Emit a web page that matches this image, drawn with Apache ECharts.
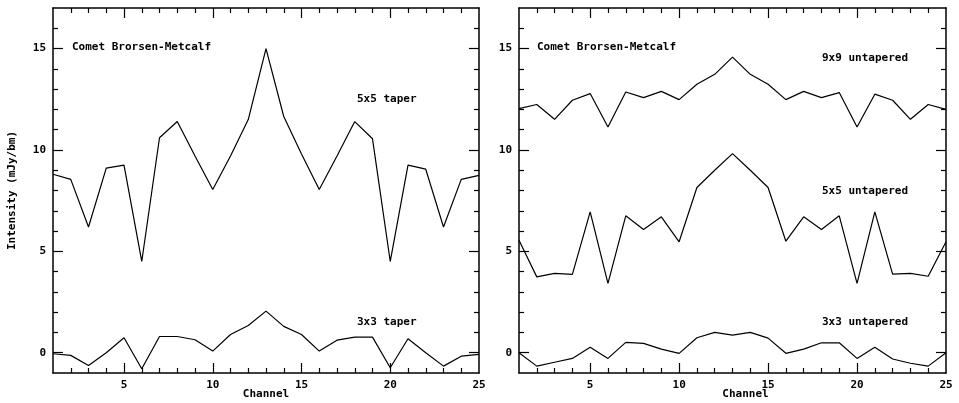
<!DOCTYPE html>
<html>
<head>
<meta charset="utf-8">
<script src="https://cdn.jsdelivr.net/npm/echarts@6/dist/echarts.min.js"></script>
<style>
html,body{margin:0;padding:0;background:#fff;}
#chart{width:959px;height:403px;}
</style>
</head>
<body>
<div id="chart"></div>
<script>
// ---- data ----
var channels = [1,2,3,4,5,6,7,8,9,10,11,12,13,14,15,16,17,18,19,20,21,22,23,24,25];
var taper5x5 = [8.8, 8.55, 6.2, 9.1, 9.25, 4.5, 10.6, 11.4, 9.7, 8.05, 9.7, 11.5, 15.0, 11.65, 9.8, 8.05, 9.7, 11.4, 10.55, 4.5, 9.25, 9.05, 6.2, 8.55, 8.75];
var taper3x3 = [-0.05, -0.13, -0.63, 0.0, 0.74, -0.79, 0.8, 0.8, 0.64, 0.08, 0.9, 1.34, 2.05, 1.3, 0.9, 0.08, 0.62, 0.77, 0.77, -0.74, 0.69, 0.0, -0.66, -0.17, -0.08];
var untap9x9 = [12.04, 12.24, 11.51, 12.45, 12.78, 11.13, 12.86, 12.58, 12.89, 12.48, 13.24, 13.73, 14.58, 13.73, 13.24, 12.48, 12.89, 12.58, 12.83, 11.13, 12.75, 12.45, 11.51, 12.24, 12.0];
var untap5x5 = [5.55, 3.74, 3.91, 3.86, 6.95, 3.42, 6.75, 6.08, 6.70, 5.47, 8.15, 9.0, 9.82, 9.0, 8.15, 5.5, 6.70, 6.08, 6.75, 3.42, 6.95, 3.88, 3.91, 3.77, 5.47];
var untap3x3 = [0.0, -0.66, -0.47, -0.28, 0.27, -0.28, 0.51, 0.46, 0.18, -0.03, 0.74, 1.0, 0.87, 1.0, 0.72, -0.03, 0.18, 0.49, 0.49, -0.28, 0.27, -0.31, -0.52, -0.66, 0.0];
var xLabelTicks = [5, 10, 15, 20, 25];
var xMajorTicks = [5, 10, 15, 20];
var xMinorTicks = [2,3,4,6,7,8,9,11,12,13,14,16,17,18,19,21,22,23,24];
var yLabelTicks = [0, 5, 10, 15];
var yMinorTicks = [1,2,3,4,6,7,8,9,11,12,13,14,16];

function pairs(ys){ return channels.map(function(c,i){ return [c, ys[i]]; }); }

var FONT = 'DejaVu Sans Mono';
var txt = {color:'#000', fontFamily: FONT, fontSize: 11, fontWeight:'bold'};

function xAxes(grid, nameExtra){
  var base = {type:'value', gridIndex: grid, min:1, max:25, splitLine:{show:false}};
  return [
    Object.assign({}, base, {position:'bottom', name:'Channel', nameLocation:'middle', nameGap:16,
      nameMoveOverlap:false,
      nameTextStyle: Object.assign({padding: nameExtra}, txt),
      axisLine:{show:true, onZero:false, lineStyle:{color:'#000', width:1.5}},
      axisTick:{show:true, inside:true, length:10, customValues:xMajorTicks, lineStyle:{color:'#000', width:1.2}},
      axisLabel:Object.assign({show:true, margin:7, customValues:xLabelTicks}, txt)}),
    Object.assign({}, base, {position:'bottom',
      axisLine:{show:false, onZero:false},
      axisTick:{show:true, inside:true, length:5, customValues:xMinorTicks, lineStyle:{color:'#000', width:1.2}},
      axisLabel:{show:false}}),
    Object.assign({}, base, {position:'top',
      axisLine:{show:true, onZero:false, lineStyle:{color:'#000', width:1.5}},
      axisTick:{show:true, inside:true, length:10, customValues:xMajorTicks, lineStyle:{color:'#000', width:1.2}},
      axisLabel:{show:false}}),
    Object.assign({}, base, {position:'top',
      axisLine:{show:false, onZero:false},
      axisTick:{show:true, inside:true, length:5, customValues:xMinorTicks, lineStyle:{color:'#000', width:1.2}},
      axisLabel:{show:false}})
  ];
}
function yAxes(grid, withName){
  var base = {type:'value', gridIndex: grid, min:-1, max:17, splitLine:{show:false}};
  var first = Object.assign({}, base, {position:'left',
      axisLine:{show:true, onZero:false, lineStyle:{color:'#000', width:1.5}},
      axisTick:{show:true, inside:true, length:10, customValues:yLabelTicks, lineStyle:{color:'#000', width:1.2}},
      axisLabel:Object.assign({show:true, margin:7, customValues:yLabelTicks}, txt)});
  if (withName) {
    first.name = 'Intensity (mJy/bm)';
    first.nameLocation = 'middle';
    first.nameGap = 35;
    first.nameMoveOverlap = false;
    first.nameTextStyle = Object.assign({}, txt);
  }
  return [
    first,
    Object.assign({}, base, {position:'left',
      axisLine:{show:false, onZero:false},
      axisTick:{show:true, inside:true, length:5, customValues:yMinorTicks, lineStyle:{color:'#000', width:1.2}},
      axisLabel:{show:false}}),
    Object.assign({}, base, {position:'right',
      axisLine:{show:true, onZero:false, lineStyle:{color:'#000', width:1.5}},
      axisTick:{show:true, inside:true, length:10, customValues:yLabelTicks, lineStyle:{color:'#000', width:1.2}},
      axisLabel:{show:false}}),
    Object.assign({}, base, {position:'right',
      axisLine:{show:false, onZero:false},
      axisTick:{show:true, inside:true, length:5, customValues:yMinorTicks, lineStyle:{color:'#000', width:1.2}},
      axisLabel:{show:false}})
  ];
}

function line(data, gi){
  return {type:'line', xAxisIndex: gi*4, yAxisIndex: gi*4, data: pairs(data),
    symbol:'none', lineStyle:{color:'#000', width:1.2}, animation:false};
}

function label(x, y, s){
  return {type:'text', left:x, top:y, style:{text:s, fill:'#000', font:'bold 11px "DejaVu Sans Mono"'}};
}

var chart = echarts.init(document.getElementById('chart'), null, {renderer:'canvas'});
chart.setOption({
  animation:false,
  backgroundColor:'#fff',
  grid:[
    {left:53, right:480, top:8, bottom:30, containLabel:false, outerBoundsMode:'none'},
    {left:519, right:13, top:8, bottom:30, containLabel:false, outerBoundsMode:'none'}
  ],
  xAxis: xAxes(0, [0,0,0,0]).concat(xAxes(1, [0,0,0,26])),
  yAxis: yAxes(0, true).concat(yAxes(1, false)),
  series:[
    line(taper5x5, 0), line(taper3x3, 0),
    line(untap9x9, 1), line(untap5x5, 1), line(untap3x3, 1)
  ],
  graphic:[
    label(72, 42, 'Comet Brorsen-Metcalf'),
    label(357, 94, '5x5 taper'),
    label(357, 317, '3x3 taper'),
    label(537, 42, 'Comet Brorsen-Metcalf'),
    label(822, 53, '9x9 untapered'),
    label(822, 186, '5x5 untapered'),
    label(822, 317, '3x3 untapered')
  ]
});
</script>
</body>
</html>
